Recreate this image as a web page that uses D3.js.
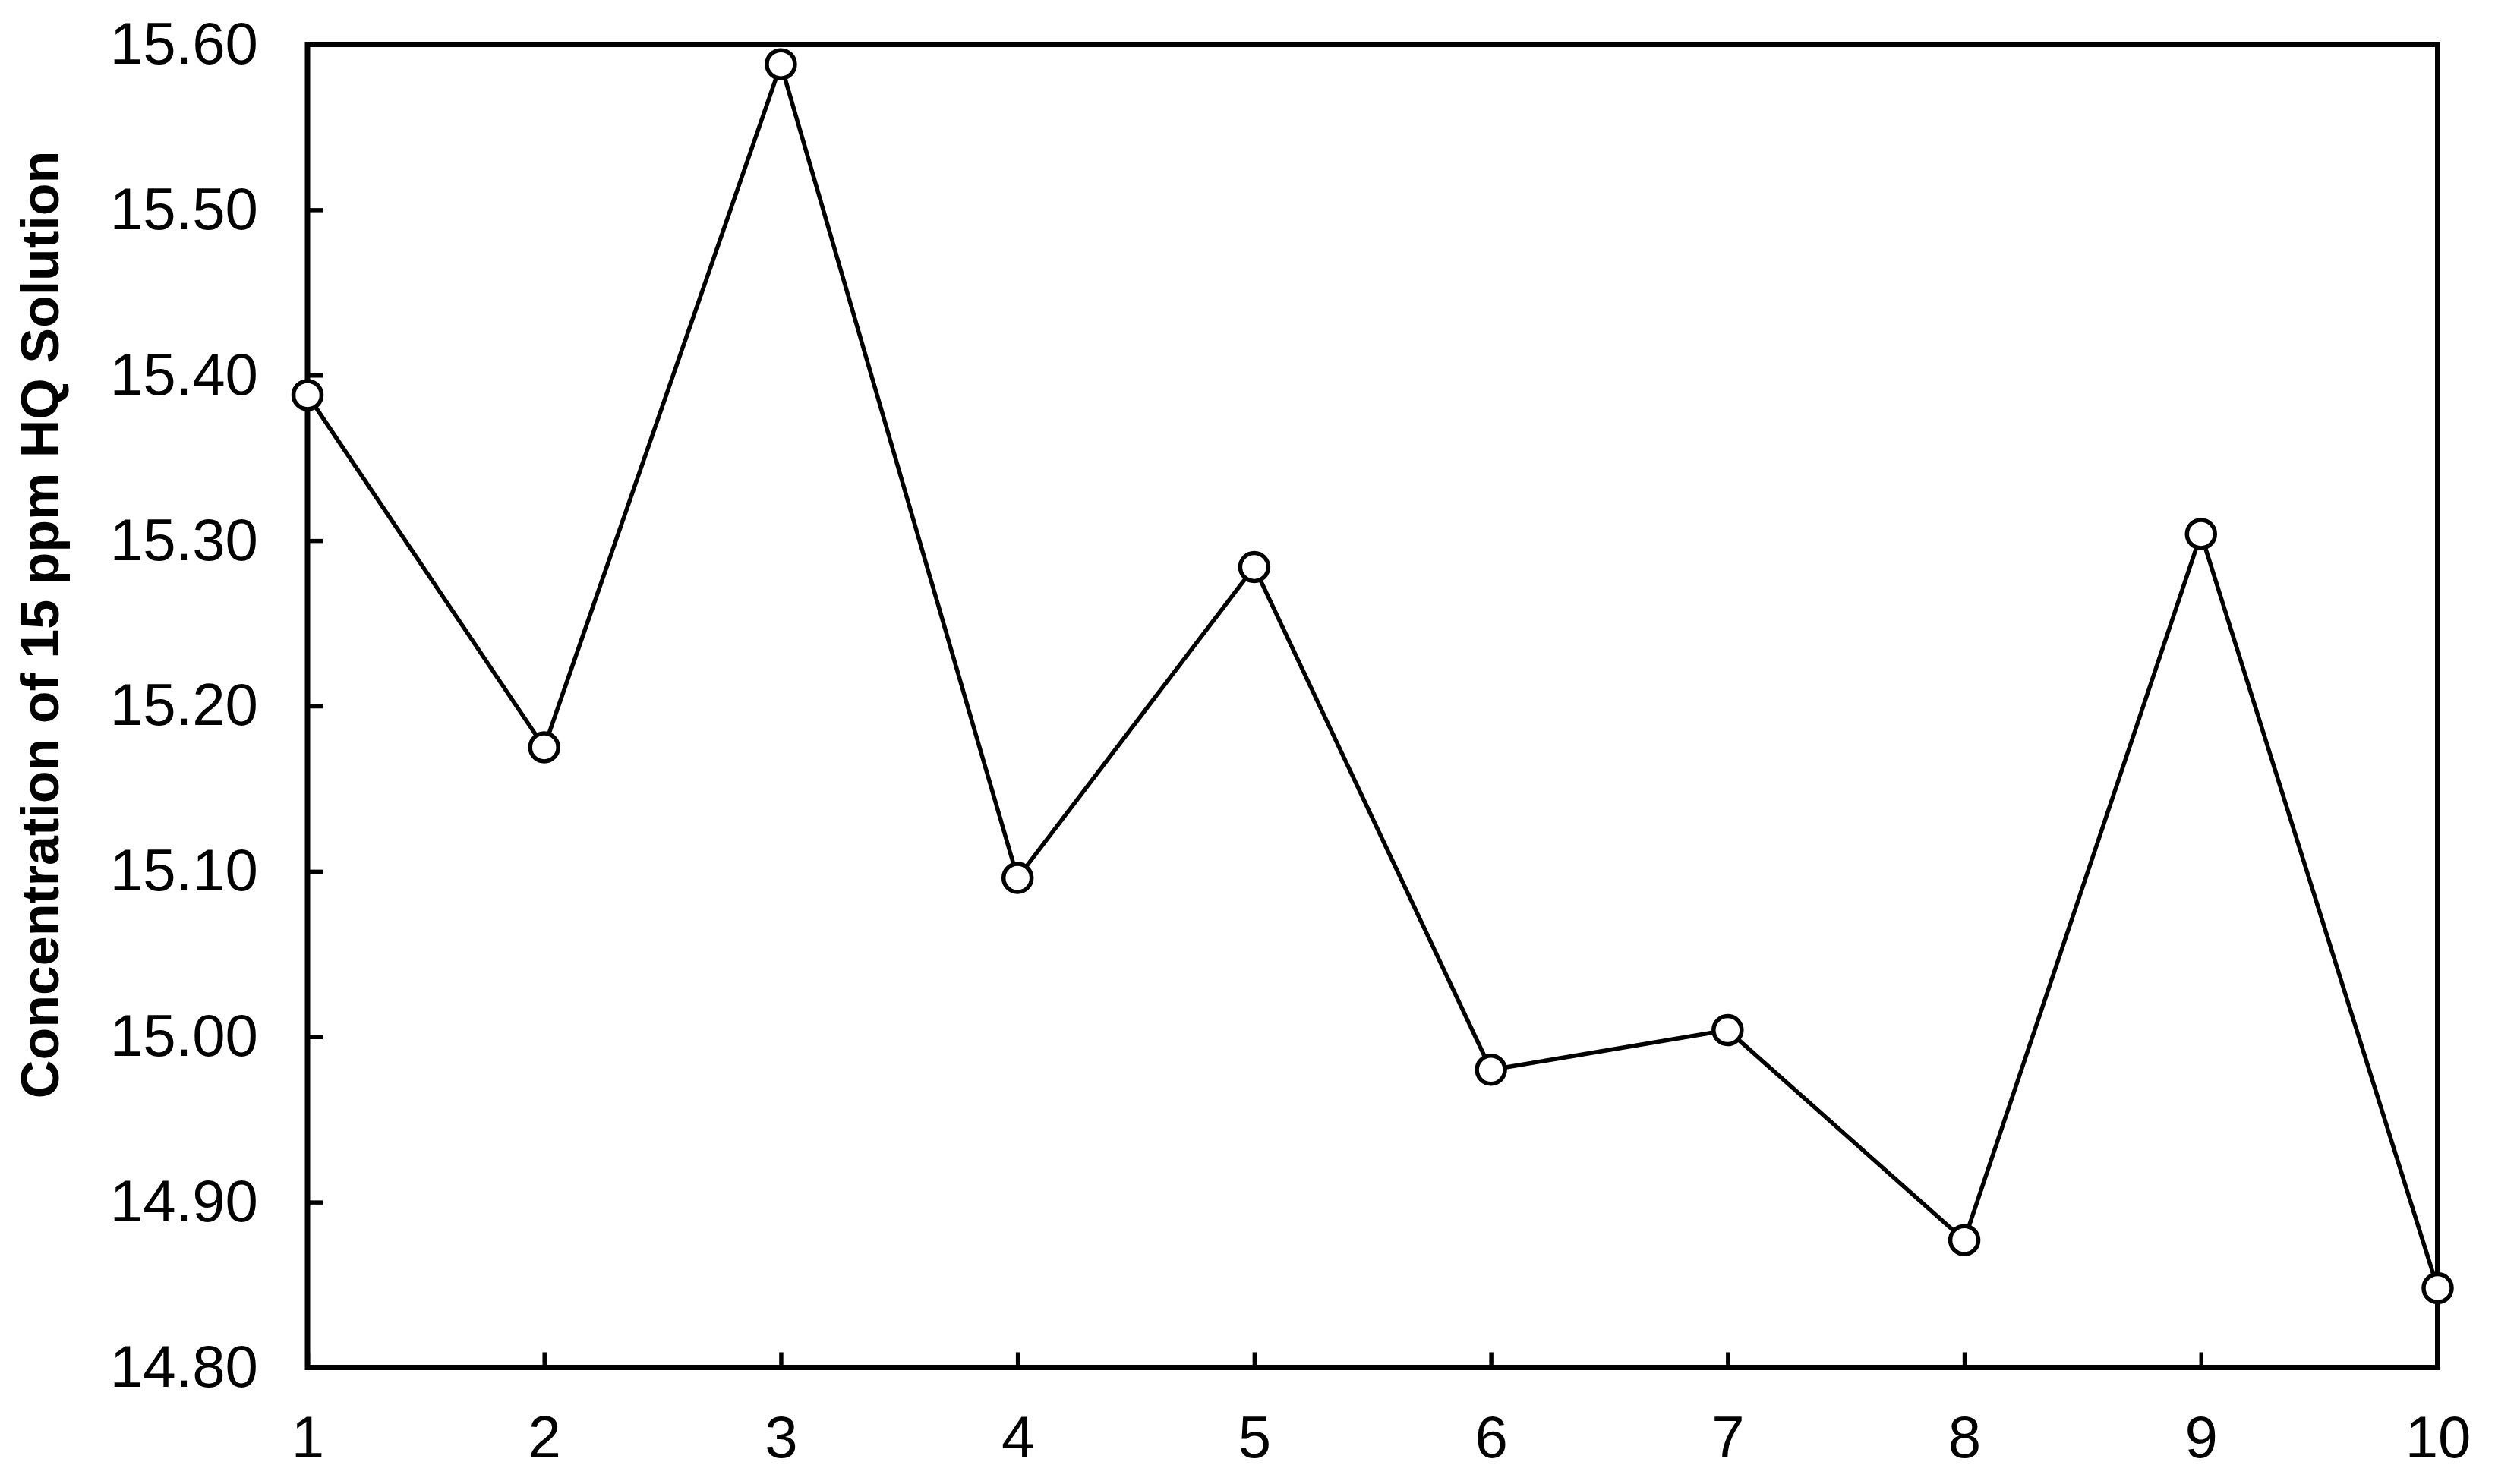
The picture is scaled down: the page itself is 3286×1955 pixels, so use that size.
<!DOCTYPE html>
<html>
<head>
<meta charset="utf-8">
<script src="https://cdn.jsdelivr.net/npm/d3@7"></script>
<style>
  html, body { margin: 0; padding: 0; background: #fff; }
  svg { display: block; }
  .tick text { font-family: "Liberation Sans", Arial, sans-serif; }
</style>
</head>
<body>
<script>
// sample runs and measured concentration (ppm)
var runs = [1, 2, 3, 4, 5, 6, 7, 8, 9, 10];
var concentration = [15.388, 15.175, 15.588, 15.096, 15.284, 14.980, 15.004, 14.877, 15.304, 14.848];
var yTicks = [14.80, 14.90, 15.00, 15.10, 15.20, 15.30, 15.40, 15.50, 15.60];
var yTitle = "Concentration of 15 ppm HQ Solution";

// chart size
var svg_width = 3286;
var svg_height = 1955;
var margin = { top: 58.5, right: 75.5, bottom: 153.5, left: 405 };
var plot_w = svg_width - margin.left - margin.right;
var plot_h = svg_height - margin.top - margin.bottom;

const svg = d3.select('body')
    .append('svg')
    .attr("width", svg_width)
    .attr("height", svg_height);

const g = svg.append('g')
    .attr('transform', `translate(${margin.left},${margin.top})`);

// scales
const x = d3.scaleLinear().domain([1, 10]).range([0, plot_w]);
const y = d3.scaleLinear().domain([14.8, 15.6]).range([plot_h, 0]);

// left axis, ticks point inward
const yAxis = g.append('g')
    .call(d3.axisLeft(y).tickValues(yTicks).tickFormat(d3.format(".2f"))
        .tickSize(-20).tickSizeOuter(0).tickPadding(65));

// bottom axis, ticks point inward
const xAxis = g.append('g')
    .attr('transform', `translate(0,${plot_h})`)
    .call(d3.axisBottom(x).tickValues(runs).tickFormat(d3.format("d"))
        .tickSize(-20).tickSizeOuter(0).tickPadding(63));

[yAxis, xAxis].forEach(ax => {
    ax.select('.domain').remove();
    ax.selectAll('.tick line').attr('stroke', '#000').attr('stroke-width', 5.5);
    ax.selectAll('.tick text').attr('fill', '#000').style('font-size', '78px');
});

// frame around plot area
g.append('rect')
    .attr('x', 0).attr('y', 0)
    .attr('width', plot_w).attr('height', plot_h)
    .attr('fill', 'none')
    .attr('stroke', '#000')
    .attr('stroke-width', 7);

// data line
const pts = runs.map((r, i) => ({ run: r, value: concentration[i] }));

g.append('path')
    .datum(pts)
    .attr('fill', 'none')
    .attr('stroke', '#000')
    .attr('stroke-width', 5.5)
    .attr('d', d3.line().x(d => x(d.run)).y(d => y(d.value)));

// open circle markers
g.selectAll('.marker')
    .data(pts)
    .enter().append('circle')
    .attr('class', 'marker')
    .attr('cx', d => x(d.run))
    .attr('cy', d => y(d.value))
    .attr('r', 18.5)
    .attr('fill', '#fff')
    .attr('stroke', '#000')
    .attr('stroke-width', 5.5);

// y axis title
svg.append('text')
    .attr('transform', 'translate(77,823) rotate(-90)')
    .attr('text-anchor', 'middle')
    .style('font-family', '"Liberation Sans", Arial, sans-serif')
    .style('font-weight', 'bold')
    .style('font-size', '70px')
    .text(yTitle);
</script>
</body>
</html>
